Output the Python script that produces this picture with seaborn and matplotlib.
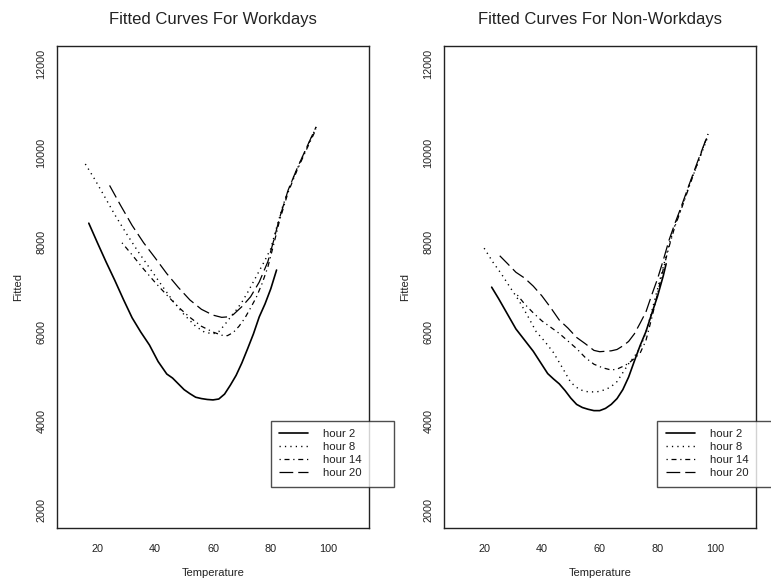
import numpy as np
import pandas as pd
import matplotlib
matplotlib.use("Agg")
import matplotlib.pyplot as plt
import seaborn as sns

# ---------------- data ----------------
hours = ["hour 2", "hour 8", "hour 14", "hour 20"]

# Workdays
wd_h2_t = [17, 20, 23, 26, 29, 32, 35, 38, 41, 44, 46, 48, 50, 52, 54, 56, 58, 60, 62, 64, 66, 68, 70, 72, 74, 76, 78, 80, 82]
wd_h2_y = [8430, 7990, 7560, 7150, 6720, 6310, 5990, 5700, 5330, 5050, 4960, 4830, 4700, 4610, 4530, 4500, 4480, 4470, 4490, 4600, 4800, 5020, 5300, 5620, 5950, 6330, 6620, 6960, 7380]

wd_h8_t = [15.8, 19, 22, 26, 30, 34, 38, 42, 46, 50, 54, 57, 60, 62, 64, 66, 68, 70, 72, 74, 76, 78, 80, 82, 84, 86, 88, 90, 92, 94, 95.7]
wd_h8_y = [9756, 9420, 9080, 8620, 8200, 7800, 7430, 7060, 6700, 6380, 6120, 5990, 5950, 6000, 6150, 6320, 6480, 6660, 6880, 7120, 7360, 7600, 7860, 8330, 8780, 9160, 9480, 9770, 10060, 10340, 10580]

wd_h14_t = [28.5, 32, 36, 40, 44, 48, 52, 56, 60, 63, 65, 67, 69, 71, 73, 75, 77, 79, 81, 83, 86, 89, 92, 95.7]
wd_h14_y = [7990, 7720, 7400, 7100, 6820, 6550, 6320, 6120, 5990, 5920, 5910, 5980, 6120, 6300, 6530, 6770, 7080, 7450, 7950, 8480, 9120, 9600, 10030, 10540]

wd_h20_t = [24.2, 28, 32, 36, 40, 44, 48, 52, 56, 60, 63, 65, 67, 70, 73, 76, 79, 81, 83, 86, 89, 92, 95.7]
wd_h20_y = [9276, 8830, 8380, 7990, 7650, 7300, 6990, 6710, 6500, 6370, 6320, 6330, 6380, 6560, 6780, 7110, 7570, 8040, 8540, 9170, 9640, 10070, 10590]

# Non-workdays
nw_h2_t = [22.6, 25, 28, 31, 34, 37, 40, 42, 44, 46, 48, 50, 52, 54, 56, 58, 60, 62, 64, 66, 68, 70, 72, 74, 76, 78, 80, 82, 83]
nw_h2_y = [6996, 6740, 6400, 6060, 5810, 5560, 5260, 5060, 4940, 4830, 4680, 4510, 4370, 4300, 4260, 4230, 4230, 4280, 4370, 4500, 4700, 4980, 5340, 5690, 6000, 6400, 6790, 7250, 7520]

nw_h8_t = [20, 23, 26, 29, 32, 35, 38, 41, 44, 47, 50, 53, 56, 59, 62, 64, 66, 68, 70, 72, 74, 76, 78, 80, 82, 84, 86, 88, 91, 94, 97.5]
nw_h8_y = [7870, 7560, 7290, 6990, 6700, 6360, 6000, 5780, 5530, 5200, 4860, 4700, 4650, 4650, 4700, 4770, 4880, 5080, 5280, 5440, 5640, 5980, 6450, 6950, 7450, 7950, 8380, 8720, 9280, 9780, 10380]

nw_h14_t = [31.5, 34, 37, 40, 43, 46, 49, 52, 55, 58, 61, 64, 66, 68, 70, 72, 74, 76, 78, 80, 82, 84, 86, 88, 91, 94, 97.5]
nw_h14_y = [6820, 6620, 6420, 6240, 6100, 5960, 5790, 5620, 5420, 5270, 5190, 5140, 5160, 5220, 5290, 5400, 5520, 5800, 6300, 6850, 7400, 7900, 8350, 8700, 9250, 9800, 10420]

nw_h20_t = [25.4, 28, 31, 34, 37, 40, 43, 46, 49, 52, 55, 58, 60, 62, 64, 66, 68, 70, 72, 74, 76, 78, 80, 82, 84, 86, 88, 91, 94, 97.5]
nw_h20_y = [7700, 7530, 7330, 7200, 7020, 6800, 6540, 6260, 6080, 5870, 5730, 5580, 5550, 5560, 5570, 5600, 5680, 5780, 5950, 6190, 6440, 6820, 7180, 7600, 8050, 8420, 8760, 9300, 9830, 10430]

x_ticks = [20, 40, 60, 80, 100]
y_ticks = [2000, 4000, 6000, 8000, 10000, 12000]
titles = ["Fitted Curves For Workdays", "Fitted Curves For Non-Workdays"]

panels = [
    [(wd_h2_t, wd_h2_y), (wd_h8_t, wd_h8_y), (wd_h14_t, wd_h14_y), (wd_h20_t, wd_h20_y)],
    [(nw_h2_t, nw_h2_y), (nw_h8_t, nw_h8_y), (nw_h14_t, nw_h14_y), (nw_h20_t, nw_h20_y)],
]

# ---------------- styling ----------------
sns.set_style("white")
plt.rcParams["font.family"] = ["Liberation Sans", "DejaVu Sans"]
plt.rcParams["axes.edgecolor"] = "black"

styles = {
    "hour 2": dict(linestyle="-", linewidth=1.2),
    "hour 8": dict(linestyle=(0, (0.9, 3.0)), linewidth=1.0),
    "hour 14": dict(linestyle=(0, (1, 3, 4, 3)), linewidth=0.9),
    "hour 20": dict(linestyle=(0, (11, 4)), linewidth=0.9),
}

W, H = 771, 581
fig = plt.figure(figsize=(W / 100, H / 100), dpi=100)
ax_rects = [
    (57 / W, (H - 528) / H, 312 / W, 482 / H),
    (443.7 / W, (H - 528) / H, 312 / W, 482 / H),
]

for k in range(2):
    ax = fig.add_axes(ax_rects[k])
    for name, (t, y) in zip(hours, panels[k]):
        df = pd.DataFrame({"Temperature": t, "Fitted": y})
        sns.lineplot(data=df, x="Temperature", y="Fitted", ax=ax, color="black",
                     estimator=None, sort=False, label=name, **styles[name])
    ax.set_xlim(6, 114)
    ax.set_ylim(1600, 12400)
    ax.set_xticks(x_ticks)
    ax.set_yticks(y_ticks)
    ax.set_xticklabels([str(v) for v in x_ticks])
    ax.set_yticklabels([str(v) for v in y_ticks], rotation=90, va="center")
    ax.tick_params(axis="both", direction="out", length=5.5, width=0.9,
                   color="black", labelsize=7.8, labelcolor="#222222")
    ax.tick_params(axis="x", pad=6)
    ax.tick_params(axis="y", pad=2)
    for sp in ax.spines.values():
        sp.set_visible(True)
        sp.set_linewidth(1.0)
        sp.set_color("#222222")
    ax.set_xlabel("Temperature", fontsize=8, labelpad=10, color="#222222")
    ax.set_ylabel("Fitted", fontsize=8, labelpad=9.5, color="#222222")
    ax.set_title(titles[k], fontsize=12, pad=16, color="#222222")

    handles, labels = ax.get_legend_handles_labels()
    leg = ax.legend(handles, labels, loc="upper left",
                    bbox_to_anchor=(80, 2514, 42.8, 1486),
                    bbox_transform=ax.transData, mode="expand",
                    borderaxespad=0, frameon=True, fancybox=False,
                    fontsize=8.2, handlelength=2.55, handletextpad=1.3,
                    borderpad=0.75, labelspacing=0.25)
    leg.get_frame().set_edgecolor("#222222")
    leg.get_frame().set_linewidth(1.0)
    leg.set_clip_on(False)
    for txt in leg.get_texts():
        txt.set_color("#222222")

fig.savefig("out.png", dpi=100, facecolor="white")
